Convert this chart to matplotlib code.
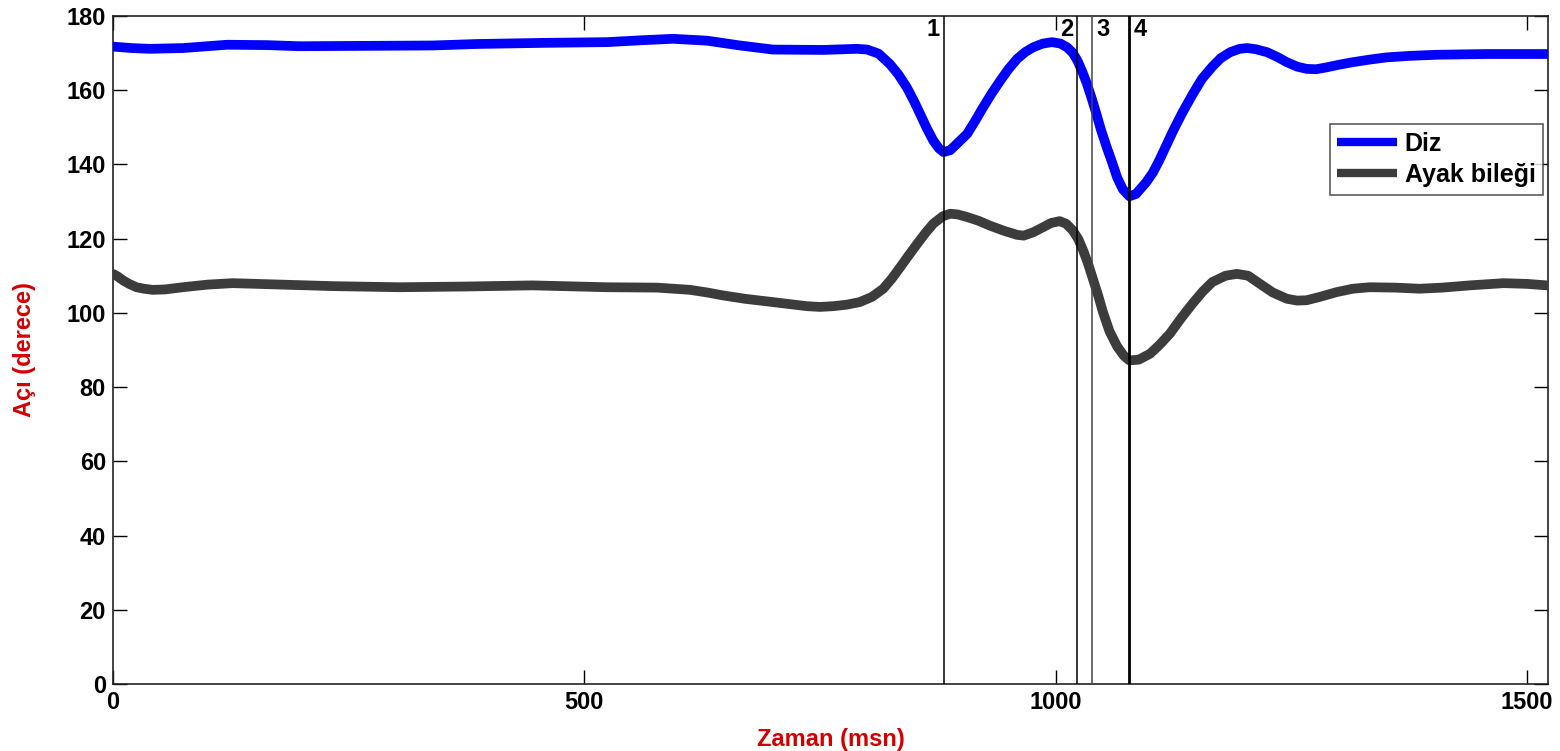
import matplotlib
matplotlib.use("Agg")
import matplotlib.pyplot as plt

# ---- data ----
diz_t = [0, 20, 39, 74, 100, 121, 163, 198, 269, 339, 386, 456, 524, 560, 594,
         630, 665, 700, 753, 789, 800, 812, 824, 833, 842, 850, 856, 863, 870,
         876, 881, 888, 895, 906, 914, 923, 932, 941, 950, 959, 968, 976, 986,
         996, 1005, 1012, 1018, 1023, 1028, 1033, 1038, 1043, 1048, 1054, 1060,
         1065, 1071, 1078, 1085, 1096, 1103, 1110, 1117, 1124, 1134, 1145, 1155,
         1166, 1175, 1185, 1195, 1203, 1212, 1224, 1235, 1245, 1256, 1266, 1276,
         1287, 1300, 1315, 1333, 1351, 1375, 1404, 1430, 1457, 1490, 1521]
diz_v = [171.7, 171.3, 171.1, 171.3, 171.8, 172.2, 172.1, 171.8, 171.9, 172.0,
         172.4, 172.7, 172.9, 173.4, 173.8, 173.3, 172.0, 170.9, 170.8, 171.1,
         170.9, 169.8, 167.0, 164.2, 160.7, 156.8, 153.6, 149.8, 146.4, 144.3,
         143.3, 143.8, 145.5, 148.2, 151.5, 155.4, 159.1, 162.5, 165.7, 168.4,
         170.3, 171.5, 172.5, 172.9, 172.5, 171.5, 170.0, 167.9, 165.0, 161.7,
         157.8, 153.6, 149.2, 144.6, 140.3, 136.5, 133.3, 131.4, 132.0, 135.2,
         137.8, 141.2, 145.0, 148.8, 153.8, 158.8, 163.0, 166.3, 168.6, 170.2,
         171.1, 171.3, 171.0, 170.2, 168.9, 167.5, 166.3, 165.7, 165.6, 166.1,
         166.8, 167.5, 168.2, 168.8, 169.2, 169.5, 169.6, 169.7, 169.7, 169.7]

ayak_t = [0, 5, 11, 18, 25, 33, 42, 55, 74, 100, 127, 180, 233, 304, 375, 445,
          524, 577, 612, 630, 647, 670, 700, 736, 750, 764, 778, 792, 805, 817,
          826, 835, 844, 853, 862, 870, 880, 888, 896, 906, 918, 930, 945, 959,
          966, 976, 986, 995, 1004, 1011, 1018, 1024, 1029, 1034, 1039, 1045,
          1050, 1057, 1065, 1072, 1078, 1088, 1100, 1110, 1121, 1133, 1145, 1156,
          1166, 1180, 1192, 1204, 1216, 1230, 1245, 1256, 1266, 1280, 1298, 1315,
          1333, 1360, 1386, 1410, 1439, 1475, 1500, 1521]
ayak_v = [110.5, 109.8, 108.7, 107.7, 106.9, 106.5, 106.2, 106.3, 106.9, 107.6,
          108.0, 107.6, 107.2, 106.9, 107.1, 107.4, 106.9, 106.8, 106.2, 105.5,
          104.7, 103.8, 102.9, 101.8, 101.6, 101.8, 102.2, 102.9, 104.3, 106.5,
          109.2, 112.3, 115.5, 118.6, 121.6, 124.0, 126.0, 126.7, 126.5, 125.8,
          124.8, 123.5, 122.1, 121.0, 120.8, 121.7, 123.0, 124.2, 124.7, 124.0,
          122.2, 119.8, 116.8, 113.4, 109.4, 104.6, 100.2, 95.0, 91.0, 88.5, 87.2,
          87.4, 89.0, 91.4, 94.4, 98.6, 102.5, 105.8, 108.3, 110.0, 110.5, 110.0,
          107.9, 105.5, 103.8, 103.3, 103.4, 104.3, 105.6, 106.5, 106.9, 106.8,
          106.5, 106.8, 107.4, 108.0, 107.8, 107.4]

event_times = [881, 1023, 1038, 1078]
event_labels = ["1", "2", "3", "4"]

x_ticks = [0, 500, 1000, 1500]
y_ticks = [0, 20, 40, 60, 80, 100, 120, 140, 160, 180]

series_names = ["Diz", "Ayak bileği"]

# ---- figure ----
plt.rcParams['font.family'] = ['Liberation Sans', 'DejaVu Sans']
fig = plt.figure(figsize=(15.6, 7.51), dpi=100)
ax = fig.add_axes([0.0724, 0.0889, 0.9199, 0.8901])

ax.plot(diz_t, diz_v, color="#0000ff", lw=7.0, solid_capstyle="round",
        solid_joinstyle="round", label=series_names[0], zorder=3)
ax.plot(ayak_t, ayak_v, color="#3c3c3c", lw=7.0, solid_capstyle="round",
        solid_joinstyle="round", label=series_names[1], zorder=3)

ev_widths = [1.1, 1.1, 1.1, 2.0]
ev_colors = ["black", "black", "#444444", "black"]
ev_offsets = [-4, -4, 5, 5]
ev_ha = ["right", "right", "left", "left"]
for t, lab, w, c, off, ha in zip(event_times, event_labels, ev_widths, ev_colors, ev_offsets, ev_ha):
    ax.axvline(t, color=c, lw=w, zorder=4)
    ax.text(t + off, 176.3, lab, ha=ha, va="center", fontsize=17,
            fontweight="bold", color="black", zorder=5)

ax.set_xlim(0, 1522)
ax.set_ylim(0, 180)
ax.set_xticks(x_ticks)
ax.set_yticks(y_ticks)
ax.tick_params(direction="in", length=10, width=1.0, top=True, right=True,
               labelsize=17, pad=5)
for lbl in ax.get_xticklabels() + ax.get_yticklabels():
    lbl.set_fontweight("bold")
for sp in ax.spines.values():
    sp.set_linewidth(1.2)
    sp.set_color("#222222")

ax.set_xlabel("Zaman (msn)", color="#d40000", fontsize=17, fontweight="bold", labelpad=10)
ax.set_ylabel("Açı (derece)", color="#d40000", fontsize=17, fontweight="bold", labelpad=22)

leg = ax.legend(loc="upper right", bbox_to_anchor=(0.9965, 0.838),
                prop={"weight": "bold", "size": 18}, frameon=True, fancybox=False,
                edgecolor="#333333", handlelength=2.4, handletextpad=0.3,
                borderpad=0.3, labelspacing=0.3, borderaxespad=0)
leg.get_frame().set_linewidth(1.2)
for h in leg.get_lines():
    h.set_linewidth(6)
    h.set_solid_capstyle("butt")

fig.savefig("out.png", dpi=100)
